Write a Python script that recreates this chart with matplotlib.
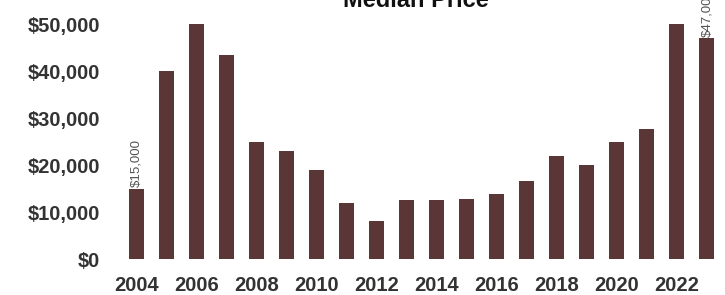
import matplotlib
matplotlib.use("Agg")
import matplotlib.pyplot as plt
from matplotlib.ticker import FuncFormatter

years = list(range(2004, 2024))
prices = [15000, 40000, 50000, 43500, 25000, 23000, 19000, 12000, 8000, 12600,
          12500, 12800, 13800, 16700, 21900, 20000, 25000, 27600, 50000, 47000]
labeled = {2004: "$15,000", 2023: "$47,000"}
tick_years = list(range(2004, 2024, 2))

plt.rcParams["font.family"] = ["Liberation Sans", "DejaVu Sans"]

fig = plt.figure(figsize=(7.25, 2.95), dpi=100)
ax = fig.add_axes([0.163, 0.122, 0.837, 0.844])

ax.bar(years, prices, width=0.5, color="#5a3636", zorder=2)

# value labels above first and last bar
for yr, txt in labeled.items():
    val = prices[years.index(yr)]
    ax.text(yr, val + 250, txt, rotation=90, ha="center", va="bottom",
            fontsize=9.5, color="#555555", clip_on=False)

ax.set_xlim(2003.4, 2023.6)
ax.set_ylim(0, 53000)
ax.set_yticks(range(0, 50001, 10000))
ax.yaxis.set_major_formatter(FuncFormatter(lambda v, p: f"${v:,.0f}"))
ax.set_xticks(tick_years)
ax.tick_params(axis="both", length=0, labelsize=14.5, labelcolor="#333333")
ax.tick_params(axis="y", pad=13)
ax.tick_params(axis="x", pad=12)
for lbl in ax.get_xticklabels() + ax.get_yticklabels():
    lbl.set_fontweight("bold")

for s in ax.spines.values():
    s.set_visible(False)

fig.text(0.573, 0.997, "Median Price", ha="center", va="center",
         fontsize=17, fontweight="bold", color="#111111")

fig.savefig("out.png", dpi=100)
